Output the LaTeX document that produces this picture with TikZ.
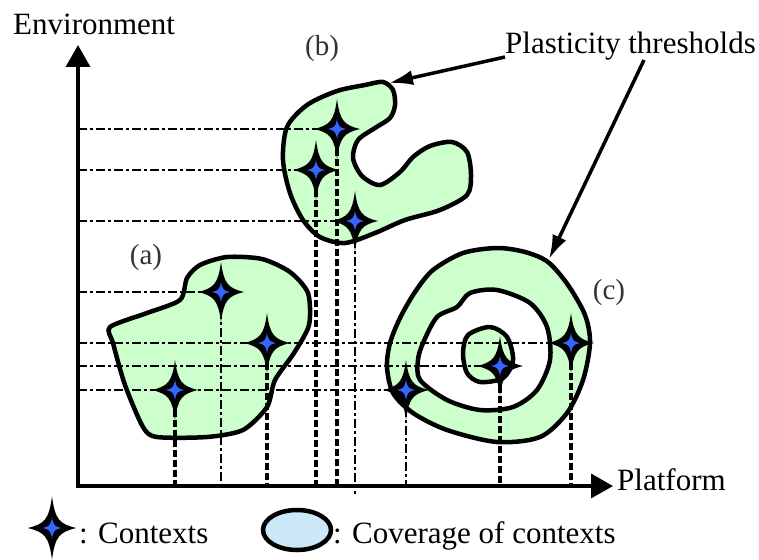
\documentclass[tikz,border=0pt]{standalone}
\usepackage{fontspec}
\setmainfont{Liberation Serif}
\usetikzlibrary{arrows.meta,shapes.geometric}
\definecolor{regfill}{HTML}{CCFFCC}
\definecolor{ctxblue}{HTML}{3366FF}
\definecolor{covfill}{HTML}{CCE8F8}
\tikzset{
  region/.style={fill=regfill, draw=black, line width=4.5pt, line join=round},
  guide/.style={line width=2.8pt, dash pattern=on 9pt off 3pt on 3pt off 3pt},
  guidethick/.style={line width=4.2pt, dash pattern=on 7pt off 3pt},
  axisline/.style={line width=3.5pt, -{Triangle[length=22pt,width=24pt]}},
  pointer/.style={line width=3.5pt, -{Latex[length=24pt,width=15pt]}},
  lbl/.style={font=\fontsize{31}{36}\selectfont, inner sep=0pt, anchor=base west},
  tag/.style={font=\fontsize{29}{34}\selectfont, inner sep=0pt, text=black!80},
  ctxstar/.pic={
    \fill[black] (0,-30) .. controls (3,-8) and (7,-4) .. (23,0)
      .. controls (7,4) and (3,8) .. (0,30)
      .. controls (-3,8) and (-7,4) .. (-23,0)
      .. controls (-7,-4) and (-3,-8) .. cycle;
    \fill[ctxblue] (0,-10) .. controls (1.2,-3) and (2.5,-1.2) .. (9,0)
      .. controls (2.5,1.2) and (1.2,3) .. (0,10)
      .. controls (-1.2,3) and (-2.5,1.2) .. (-9,0)
      .. controls (-2.5,-1.2) and (-1.2,-3) .. cycle;
  }
}
\begin{document}
\begin{tikzpicture}[x=1pt,y=-1pt]
\useasboundingbox (0,0) rectangle (759,559);
% origin of axes
\coordinate (O) at (78,486);
\coordinate (ytop) at (78,45);
\coordinate (xend) at (613,486);
% regions
\draw[region] plot[smooth cycle, tension=0.45] coordinates {(110,327) (147,313) (180,300) (187,278) (200,265) (227,257) (262,259) (290,272) (308,293) (309,325) (294,353) (275,380) (267,407) (243,430) (207,437) (157,437) (143,427) (125,385) (113,343)};
\draw[region] plot[smooth cycle, tension=0.5] coordinates {(287,127) (307,105) (337,91) (365,85) (383,82) (393,90) (395,105) (390,118) (375,128) (358,140) (353,158) (362,176) (380,185) (400,172) (413,157) (430,146) (452,142) (467,152) (471,175) (467,195) (440,210) (405,220) (375,233) (345,243) (320,237) (303,220) (290,193) (283,160)};
\draw[region, even odd rule] plot[smooth cycle, tension=0.5] coordinates {(390,343) (400,318) (415,292) (433,270) (463,253) (497,248) (525,252) (548,262) (568,285) (585,315) (590,343) (583,380) (567,413) (540,437) (497,442) (447,430) (413,413) (393,393) (387,367)}
  plot[smooth cycle, tension=0.5] coordinates {(423,343) (437,317) (457,307) (470,293) (497,290) (530,303) (547,327) (550,360) (537,390) (513,407) (480,410) (447,400) (420,380) (418,360)};
\draw[region] plot[smooth cycle, tension=0.5] coordinates {(463,353) (468,335) (490,327) (507,337) (513,360) (503,378) (480,382) (467,373)};
% contexts
\coordinate (b1) at (337,129);
\coordinate (b2) at (316,170);
\coordinate (b3) at (355,221);
\coordinate (a1) at (221,292);
\coordinate (a2) at (267,343);
\coordinate (a3) at (175,390);
\coordinate (c1) at (406,390);
\coordinate (c2) at (500,366);
\coordinate (c3) at (571,343);
% horizontal guides
\draw[guide] (O |- b1) -- (b1);
\draw[guide] (O |- b2) -- (b2);
\draw[guide] (O |- b3) -- (b3);
\draw[guide] (O |- a1) -- (a1);
\draw[guide] (O |- c3) -- (c3);
\draw[guide] (O |- c2) -- (c2);
\draw[guide] (O |- c1) -- (c1);
% vertical guides
\draw[guidethick] (a3) -- (a3 |- O);
\draw[guide, line width=2pt] (a1) -- (a1 |- O);
\draw[guidethick] (a2) -- (a2 |- O);
\draw[guidethick] (b2) -- (b2 |- O);
\draw[guidethick] (b1) -- (b1 |- O);
\coordinate (b3low) at (355,494);
\draw[guide, line width=2pt] (b3) -- (b3low);
\draw[guide, line width=2pt] (c1) -- (c1 |- O);
\draw[guidethick] (c2) -- (c2 |- O);
\draw[guidethick] (c3) -- (c3 |- O);
% stars
\foreach \p in {b1,b2,b3,a1,a2,a3,c1,c2,c3} \pic at (\p) {ctxstar};
% axes
\draw[axisline] (O) -- (ytop);
\draw[axisline] ([xshift=-1.75pt]O) -- (xend);
% texts
\node[lbl] (env) at (13,35) {Environment};
\node[lbl] (plat) at (617,490) {Platform};
\node[lbl] (pth) at (505,54) {Plasticity thresholds};
\node[tag] (la) at (146,258) {(a)};
\node[tag] (lb) at (322,49) {(b)};
\node[tag] (lc) at (609,293) {(c)};
% pointers
\coordinate (tipb) at (389,83);
\coordinate (tipc) at (549,259);
\coordinate (pstart1) at (505,57);
\coordinate (pstart2) at (644,60);
\draw[pointer] (pstart1) -- (tipb);
\draw[pointer] (pstart2) -- (tipc);
% legend
\coordinate (lstar) at (52,528);
\pic[scale=1.05] at (lstar) {ctxstar};
\node[lbl] (lctx) at (79,543) {: Contexts};
\node[draw=black, line width=4.5pt, fill=covfill, ellipse, minimum width=68pt, minimum height=40pt, inner sep=0pt] (lcov) at (297,530) {};
\node[lbl] (lcovt) at (333,543) {: Coverage of contexts};
\end{tikzpicture}
\end{document}
